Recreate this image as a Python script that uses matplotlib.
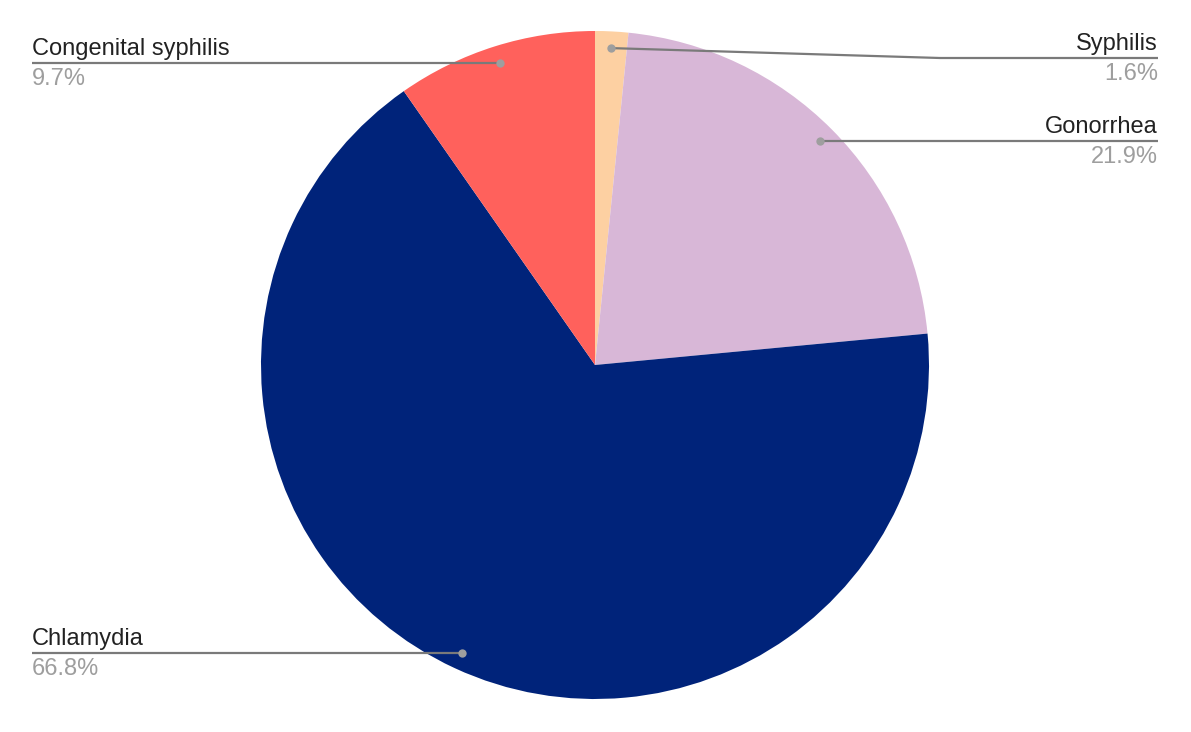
import matplotlib
matplotlib.use("Agg")
import matplotlib.pyplot as plt
import numpy as np

labels = ["Syphilis", "Gonorrhea", "Chlamydia", "Congenital syphilis"]
values = [1.6, 21.9, 66.8, 9.7]
pct_labels = ["1.6%", "21.9%", "66.8%", "9.7%"]
colors = ["#FDD0A2", "#D8B7D7", "#00237A", "#FF615C"]

plt.rcParams["font.family"] = ["Liberation Sans", "DejaVu Sans"]

W, H = 1191, 732
fig = plt.figure(figsize=(W / 100, H / 100), dpi=100)
ax = fig.add_axes([0, 0, 1, 1])

cx, cy, R = 595, H - 365, 334
ax.pie(values, colors=colors, startangle=90, counterclock=False,
       center=(cx, cy), radius=R, wedgeprops=dict(linewidth=0),
       frame=True)
ax.set_xlim(0, W)
ax.set_ylim(0, H)
ax.set_aspect("equal")
ax.axis("off")

name_color = "#222222"
pct_color = "#9E9E9E"
line_color = "#7A7A7A"
dot_color = "#9E9E9E"
fs = 17

# label layout: (side, line y in pixel coords, elbow x or None)
layout = {
    "Syphilis": ("right", 58, 940),
    "Gonorrhea": ("right", 141, None),
    "Chlamydia": ("left", 653, None),
    "Congenital syphilis": ("left", 63, None),
}
xl, xr = 32, 1158

total = sum(values)
cum = 0.0
for lab, v, p in zip(labels, values, pct_labels):
    mid = (cum + v / 2) / total * 360.0
    cum += v
    ang = np.deg2rad(90 - mid)
    dx = cx + 0.95 * R * np.cos(ang)
    dy = cy + 0.95 * R * np.sin(ang)
    side, ly, elbow = layout[lab]
    ly = H - ly
    if side == "right":
        if elbow:
            xs, ys = [dx, elbow, xr], [dy, ly, ly]
        else:
            xs, ys = [dx, xr], [ly, ly]
            dy = ly
        tx, ha = xr, "right"
    else:
        xs, ys = [xl, dx], [ly, ly]
        dy = ly
        tx, ha = xl, "left"
    ax.plot(xs, ys, color=line_color, lw=1.6, solid_capstyle="butt", zorder=3)
    ax.plot([dx], [dy], "o", color=dot_color, ms=6, zorder=4, mec="none")
    ax.text(tx, ly + 8, lab, ha=ha, va="baseline", fontsize=fs, color=name_color)
    ax.text(tx, ly - 22, p, ha=ha, va="baseline", fontsize=fs, color=pct_color)

fig.savefig("out.png", dpi=100, facecolor="white")
